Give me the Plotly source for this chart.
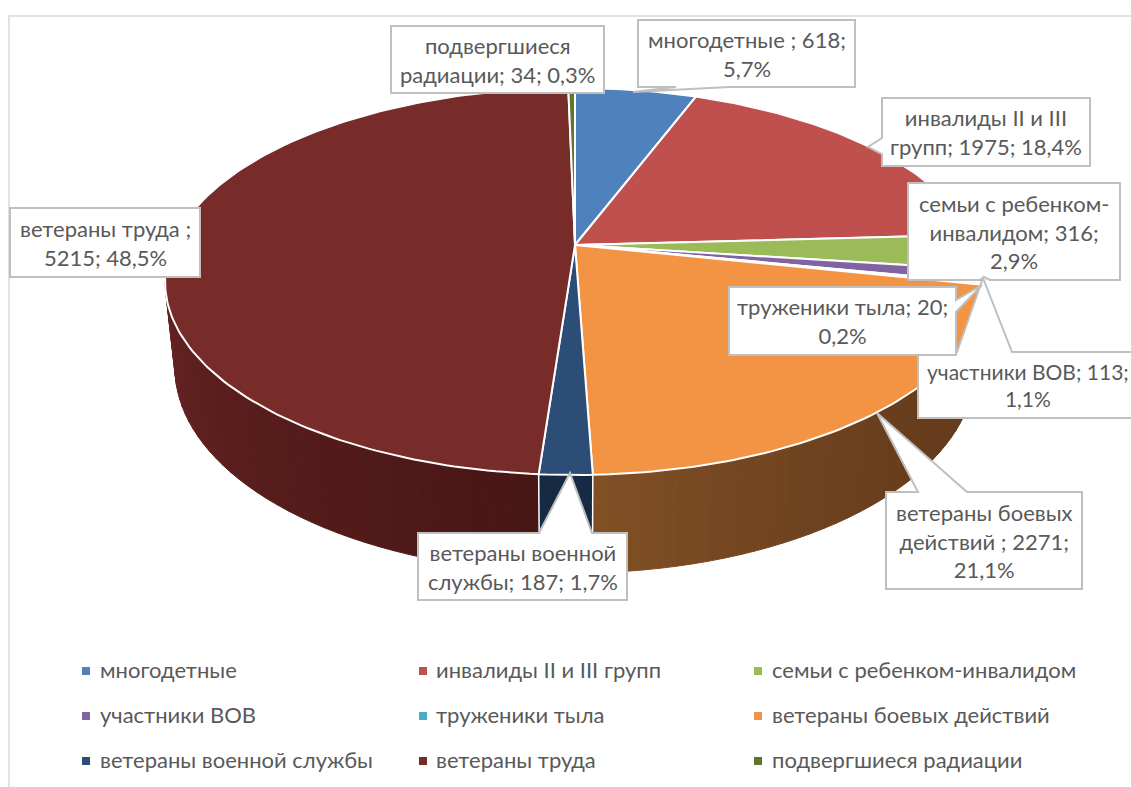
import math
import plotly.graph_objects as go

# ---------- data ----------
categories = ["многодетные", "инвалиды II и III групп", "семьи с ребенком-инвалидом",
              "участники ВОВ", "труженики тыла", "ветераны боевых действий",
              "ветераны военной службы", "ветераны труда", "подвергшиеся радиации"]
values = [618, 1975, 316, 113, 20, 2271, 187, 5215, 34]
labels = ["многодетные ; 618;<br>5,7%", "инвалиды II и III<br>групп; 1975; 18,4%",
          "семьи с ребенком-<br>инвалидом; 316;<br>2,9%", "участники ВОВ; 113;<br>1,1%",
          "труженики тыла; 20;<br>0,2%", "ветераны боевых<br>действий ; 2271;<br>21,1%",
          "ветераны военной<br>службы; 187; 1,7%", "ветераны труда ;<br>5215; 48,5%",
          "подвергшиеся<br>радиации; 34; 0,3%"]

# ---------- style ----------
colors = ["#4F81BD", "#C0504D", "#9BBB59", "#8064A2", "#4BACC6", "#F39444", "#2C4D75", "#772C2A", "#5F7530"]
# wall colours: (shade at clockwise start of the visible wall, shade at its end)
side_a = ["#2F4D71", "#732F2E", "#5D7035", "#4C3C61", "#2D6776", "#643A1B", "#172A44", "#481615", "#39461D"]
side_b = ["#2F4D71", "#732F2E", "#5D7035", "#4C3C61", "#2D6776", "#825025", "#172A44", "#652422", "#39461D"]
FONT = "Lato, 'Noto Sans', sans-serif"
TXT = "#595959"
EDGE = "#BFBFBF"
FS = 22

boxes = [
    dict(b=(638, 20, 855, 87), side="bottom", tip=(633, 92), j=(729, 676)),
    dict(b=(882, 98, 1090, 166), side="left", tip=(868, 147), j=(154, 138)),
    dict(b=(908, 183, 1120, 280), side="bottom", tip=(984, 277), j=(990, 980)),
    dict(b=(918, 352, 1143, 418), side="top", tip=(983, 278), j=(957, 1012)),
    dict(b=(729, 287, 956, 355), side="right", tip=(982, 285), j=(300, 312)),
    dict(b=(886, 492, 1082, 589), side="top", tip=(877, 413), j=(918, 967)),
    dict(b=(418, 533, 627, 600), side="top", tip=(570, 473), j=(539, 592)),
    dict(b=(10, 208, 200, 277), side=None),
    dict(b=(391, 26, 604, 93), side=None),
]
label_cx = [None, None, None, 1028, None, None, None, None, None]
label_fs = [FS, FS, FS, 21, FS, FS, FS, FS, FS]
legend_x = [86, 423, 758]
legend_y = [671, 716, 761]
legend_tx = [98, 434, 770]

# ---------- projection of the tilted disc ----------
TOP = dict(cy=245, a=186.6, b=402.6, k=0.1886)
BOT = dict(cy=329, a=197.6, b=392.7, k=0.19)
CX = 575


def proj(theta, d, r=1.0):
    u, v = r * math.sin(theta), r * math.cos(theta)
    den = 1 + d["k"] * v
    return CX + d["b"] * u / den, d["cy"] - d["a"] * v / den


def arc(t0, t1, d):
    n = max(2, int(abs(t1 - t0) / math.radians(1)) + 2)
    pts = [proj(t0 + (t1 - t0) * i / (n - 1), d) for i in range(n)]
    return [p[0] for p in pts], [p[1] for p in pts]


def mix(c1, c2, f):
    a = [int(c1[i:i + 2], 16) for i in (1, 3, 5)]
    b = [int(c2[i:i + 2], 16) for i in (1, 3, 5)]
    return "#%02x%02x%02x" % tuple(round(x + (y - x) * f) for x, y in zip(a, b))


total = sum(values)
edges = [0.0]
for val in values:
    edges.append(edges[-1] + val / total * 2 * math.pi)

fig = go.Figure()

# side wall strips (back to front)
strips = []
STEP = math.radians(2)
for i in range(len(values)):
    t0, t1 = edges[i], edges[i + 1]
    n = max(1, int((t1 - t0) / STEP))
    for s in range(n):
        a = t0 + (t1 - t0) * s / n
        b = t0 + (t1 - t0) * (s + 1) / n
        if math.radians(60) < (a + b) / 2 < math.radians(300):
            strips.append((abs((a + b) / 2 - math.pi), a, b, i, (s + .5) / n))
strips.sort(key=lambda r: -r[0])
for _, a, b, i, f in strips:
    xt, yt = arc(a, b, TOP)
    xb, yb = arc(a, b, BOT)
    if i == 7:   # maroon wall: dark near the front, lighter towards the left silhouette
        shade = min(1.0, f / 0.43)
    elif i == 5:  # orange wall: lighter near the front, quickly darker to the right
        shade = f ** 2.2
    else:
        shade = f
    c = mix(side_a[i], side_b[i], shade)
    fig.add_trace(go.Scatter(x=xt + xb[::-1] + [xt[0]], y=yt + yb[::-1] + [yt[0]], mode="lines",
                             fill="toself", fillcolor=c, line=dict(color=c, width=1),
                             hoverinfo="skip", showlegend=False))

# white vertical lines between wall segments
for t in edges:
    if math.radians(130) < t < math.radians(230):
        p, q = proj(t, TOP), proj(t, BOT)
        fig.add_trace(go.Scatter(x=[p[0], q[0]], y=[p[1], q[1]], mode="lines",
                                 line=dict(color="white", width=1.5), hoverinfo="skip", showlegend=False))

# top face wedges
for i, name in enumerate(categories):
    xs, ys = arc(edges[i], edges[i + 1], TOP)
    c0 = proj(0, TOP, 0)
    fig.add_trace(go.Scatter(x=[c0[0]] + xs + [c0[0]], y=[c0[1]] + ys + [c0[1]], mode="lines",
                             fill="toself", fillcolor=colors[i], line=dict(color="white", width=2),
                             name=name, text=f"{name}: {values[i]}", hoverinfo="text", showlegend=False))

# legend keys
lx = [legend_x[i % 3] for i in range(len(categories))]
ly = [legend_y[i // 3] for i in range(len(categories))]
fig.add_trace(go.Scatter(x=lx, y=ly, mode="markers", hoverinfo="skip", showlegend=False,
                         marker=dict(symbol="square", size=8, color=colors, line=dict(width=0))))

annotations, shapes = [], []
for i, cat in enumerate(categories):
    annotations.append(dict(x=legend_tx[i % 3], y=legend_y[i // 3] - 1.5, xref="x", yref="y", text=cat,
                            showarrow=False, xanchor="left", yanchor="middle",
                            font=dict(family=FONT, size=FS, color=TXT)))

for bx in boxes:
    x0, y0, x1, y1 = bx["b"]
    s = bx["side"]
    pts = [(x0, y0)]
    if s == "top":
        pts += [(bx["j"][0], y0), bx["tip"], (bx["j"][1], y0)]
    pts.append((x1, y0))
    if s == "right":
        pts += [(x1, bx["j"][0]), bx["tip"], (x1, bx["j"][1])]
    pts.append((x1, y1))
    if s == "bottom":
        pts += [(bx["j"][0], y1), bx["tip"], (bx["j"][1], y1)]
    pts.append((x0, y1))
    if s == "left":
        pts += [(x0, bx["j"][0]), bx["tip"], (x0, bx["j"][1])]
    path = "M" + " L".join(f"{p[0]},{p[1]}" for p in pts) + " Z"
    shapes.append(dict(type="path", path=path, xref="x", yref="y", fillcolor="white",
                       line=dict(color=EDGE, width=2), layer="above"))
for lab, bx, cx, fs in zip(labels, boxes, label_cx, label_fs):
    x0, y0, x1, y1 = bx["b"]
    annotations.append(dict(x=cx if cx else (x0 + x1) / 2, y=(y0 + y1) / 2, xref="x", yref="y", text=lab,
                            showarrow=False, xanchor="center", yanchor="middle", align="center",
                            font=dict(family=FONT, size=fs, color=TXT)))

# chart-area border (left and top)
shapes.insert(0, dict(type="path", path="M9,787 L9,16 L1131,16", xref="x", yref="y",
                      line=dict(color="#D9D9D9", width=1.5), layer="below"))

fig.update_layout(width=1131, height=787, margin=dict(l=0, r=0, t=0, b=0),
                  paper_bgcolor="white", plot_bgcolor="white", shapes=shapes, annotations=annotations,
                  xaxis=dict(range=[0, 1131], visible=False, fixedrange=True),
                  yaxis=dict(range=[787, 0], visible=False, fixedrange=True), showlegend=False)
fig.write_html("out.html", post_script="document.body.style.margin='0';document.documentElement.style.overflow='hidden';",
               config=dict(displayModeBar=False))
